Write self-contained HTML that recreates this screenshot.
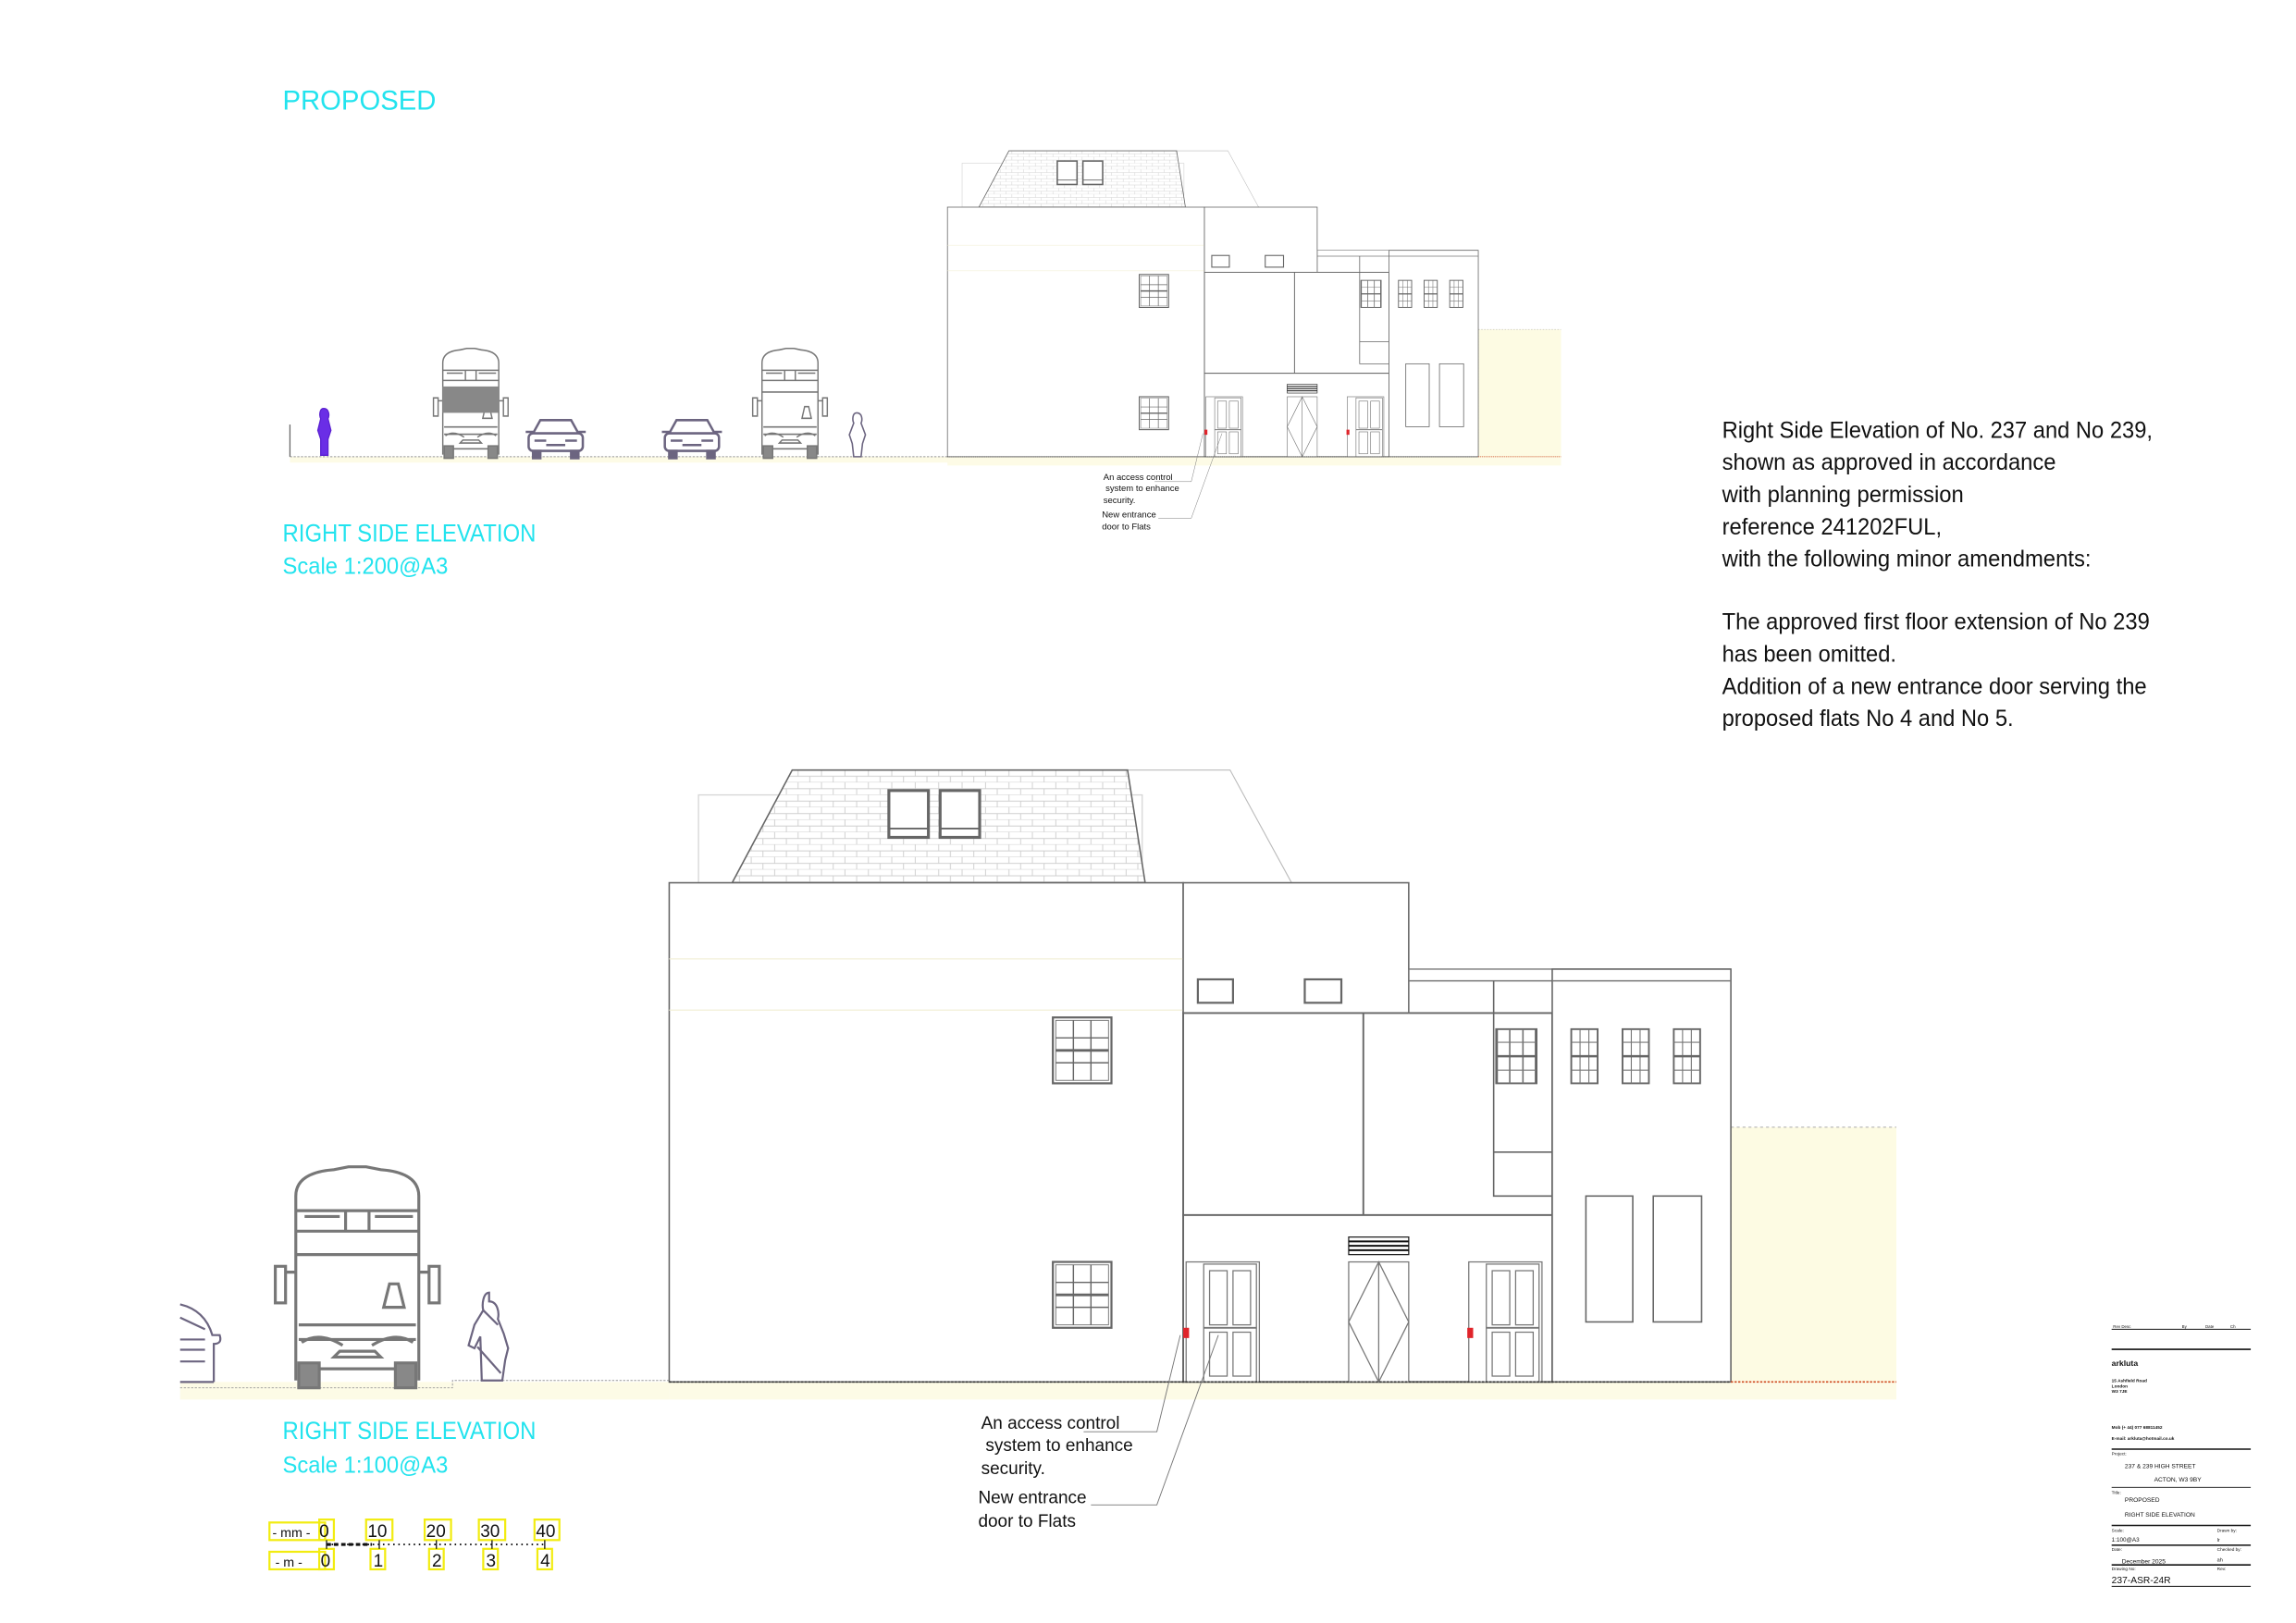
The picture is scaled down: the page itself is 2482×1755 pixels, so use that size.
<!DOCTYPE html>
<html><head><meta charset="utf-8"><style>
html,body{margin:0;padding:0;background:#fff;}
svg{display:block;}
text{font-family:"Liberation Sans",Arial,sans-serif;}
</style></head><body>
<svg width="2482" height="1755" viewBox="0 0 2482 1755" xmlns="http://www.w3.org/2000/svg">
<defs>
<pattern id="brick" width="16" height="8.5" patternUnits="userSpaceOnUse" x="541" y="526">
<rect width="16" height="8.5" fill="#fff"/>
<path d="M0 8.5H16M0 4.25H16M4 0V4.25M12 4.25V8.5" stroke="#cfcfcf" stroke-width="0.6" fill="none"/>
</pattern>
<g id="win6">
<rect x="0" y="0" width="40" height="45" fill="#fff" stroke="#666" stroke-width="1.4"/>
<rect x="2" y="2" width="36" height="41" fill="none" stroke="#777" stroke-width="0.6"/>
<path d="M14 2V43M26 2V43M2 14H38M2 22.5H38M2 31H38" stroke="#666" stroke-width="0.9" fill="none"/>
<path d="M2 22.5H38" stroke="#666" stroke-width="1.8"/>
</g>
<g id="winS">
<rect x="0" y="0" width="18" height="37" fill="#fff" stroke="#666" stroke-width="1.2"/>
<path d="M6 0V37M12 0V37M0 9H18M0 18.5H18M0 28H18" stroke="#777" stroke-width="0.7" fill="none"/>
<path d="M0 18.5H18" stroke="#666" stroke-width="1.6"/>
</g>
<g id="door">
<rect x="0" y="0" width="50" height="82" fill="#fff" stroke="#777" stroke-width="0.8"/>
<rect x="12" y="1.5" width="36" height="80.5" fill="none" stroke="#777" stroke-width="0.8"/>
<rect x="16" y="6" width="12" height="37" fill="none" stroke="#777" stroke-width="0.8"/>
<rect x="32" y="6" width="12" height="37" fill="none" stroke="#777" stroke-width="0.8"/>
<rect x="16" y="48" width="12" height="30" fill="none" stroke="#777" stroke-width="0.8"/>
<rect x="32" y="48" width="12" height="30" fill="none" stroke="#777" stroke-width="0.8"/>
<path d="M12 45H48" stroke="#777" stroke-width="1.2"/>
</g>
<g id="building">
<rect x="457" y="944" width="838" height="12" fill="#fdfbe6"/>
<rect x="1182" y="770" width="113" height="174" fill="#fdfbe3"/>
<path d="M1182 770H1295M1182 770V944" stroke="#aaa" stroke-width="0.6" stroke-dasharray="2 2" fill="none"/>
<rect x="477" y="543" width="303" height="60" fill="none" stroke="#d5d5d5" stroke-width="0.8"/>
<path d="M770 526H840L882 603" stroke="#bbb" stroke-width="0.7" fill="none"/>
<polygon points="500,603 541,526 770,526 782,603" fill="url(#brick)" stroke="#666" stroke-width="1"/>
<rect x="607" y="540" width="27" height="32" fill="#fff" stroke="#666" stroke-width="2"/>
<rect x="642" y="540" width="27" height="32" fill="#fff" stroke="#666" stroke-width="2"/>
<path d="M607 566H634M642 566H669" stroke="#666" stroke-width="1.2"/>
<rect x="457" y="603" width="351" height="341" fill="#fff" stroke="#666" stroke-width="1"/>
<path d="M457 655H808M457 690H808" stroke="#f3f0d8" stroke-width="0.8" fill="none"/>
<rect x="808" y="603" width="154" height="89" fill="#fff" stroke="#666" stroke-width="1"/>
<rect x="808" y="692" width="252" height="138" fill="#fff" stroke="#666" stroke-width="1.2"/>
<g fill="none">
<path d="M931 692V830" stroke="#666" stroke-width="1.2"/>
<path d="M962 662H1182M962 670H1182" stroke="#777" stroke-width="0.9"/>
<path d="M962 662V692" stroke="#777" stroke-width="0.9"/>
<path d="M1020 692V817H1060M1020 787H1060M1020 670V692" stroke="#666" stroke-width="1"/>
</g>
<rect x="808" y="830" width="252" height="114" fill="#fff" stroke="#666" stroke-width="1.2"/>
<rect x="1060" y="662" width="122" height="282" fill="#fff" stroke="#666" stroke-width="1"/>
<path d="M1060 670H1182" stroke="#777" stroke-width="0.9"/>
<rect x="818" y="669" width="24" height="16" fill="#fff" stroke="#666" stroke-width="1.4"/>
<rect x="891" y="669" width="25" height="16" fill="#fff" stroke="#666" stroke-width="1.4"/>
<use href="#win6" x="719" y="695"/>
<use href="#win6" x="719" y="862"/>
<g transform="translate(1022,703) scale(1.5,1)"><use href="#winS"/></g>
<use href="#winS" x="1073" y="703"/>
<use href="#winS" x="1108" y="703"/>
<use href="#winS" x="1143" y="703"/>
<rect x="1083" y="817" width="32" height="86" fill="#fff" stroke="#666" stroke-width="1"/>
<rect x="1129" y="817" width="33" height="86" fill="#fff" stroke="#666" stroke-width="1"/>
<use href="#door" x="810" y="862"/>
<use href="#door" x="1003" y="862"/>
<rect x="921" y="845" width="41" height="12" fill="#fff" stroke="#222" stroke-width="0.8"/>
<path d="M921 848H962M921 851H962M921 854H962" stroke="#111" stroke-width="1.2"/>
<rect x="921" y="862" width="41" height="82" fill="#fff" stroke="#777" stroke-width="0.8"/>
<path d="M941.5 862V944M941.5 862L962 903L941.5 944L921 903Z" stroke="#777" stroke-width="0.8" fill="none"/>
<rect x="808" y="907" width="4" height="7" fill="#e0242a"/>
<rect x="1002" y="907" width="4" height="7" fill="#e0242a"/>
<path d="M457 944H1182" stroke="#333" stroke-width="1" stroke-dasharray="1.5 1"/>
<path d="M1182 944H1295" stroke="#d04a20" stroke-width="1" stroke-dasharray="1.5 1"/>
<path d="M806 912L790 978H740M832 912L790 1028H745" stroke="#777" stroke-width="0.6" fill="none"/>
<g font-size="12" fill="#111">
<text x="670" y="976">An access control</text>
<text x="673" y="991">system to enhance</text>
<text x="670" y="1007">security.</text>
<text x="668" y="1027">New entrance</text>
<text x="668" y="1043">door to Flats</text>
</g>
</g>
<g id="bus" fill="none" stroke="#777" stroke-width="2">
<path d="M14 146V20Q14 4 40 2L50 0H62L72 2Q98 4 98 20V146"/>
<path d="M14 30H98M14 44H98M14 60H98M16 108H96M16 118H96"/>
<path d="M20 34H44M68 34H94M48 30V44M64 30V44"/>
<rect x="0" y="68" width="7" height="25"/><rect x="105" y="68" width="7" height="25"/>
<path d="M7 72H14M98 72H105"/>
<path d="M74 96L78 80H84L88 96Z"/>
<path d="M18 120Q30 112 46 122M66 122Q82 112 94 120"/>
<path d="M40 130H72L68 126H44Z"/>
<rect x="16" y="134" width="14" height="17" fill="#888"/><rect x="82" y="134" width="14" height="17" fill="#888"/>
<path d="M30 138H82"/>
</g>
<g id="car" fill="none" stroke="#6c6580" stroke-width="1.6">
<path d="M5 12L10 3H31L36 12"/>
<rect x="2" y="12" width="37" height="12" rx="3"/>
<path d="M0 11H5M36 11H41M6 17H14M27 17H35M14 20H27"/>
<rect x="5" y="24" width="5" height="5" fill="#6c6580"/><rect x="31" y="24" width="5" height="5" fill="#6c6580"/>
</g>
</defs>

<g transform="scale(1.583)">
<!-- top drawing -->
<text x="193" y="75" font-size="18.5" fill="#22e3ee">PROPOSED</text>
<rect x="198" y="312" width="868" height="4" fill="#fdfbe6"/>
<path d="M198 312H1066" stroke="#999" stroke-width="0.6" stroke-dasharray="1.5 1" fill="none"/>
<path d="M198 290V312" stroke="#666" stroke-width="0.8"/>
<g transform="translate(418.5,-160) scale(0.5)"><use href="#building"/></g>
<g transform="translate(296,238) scale(0.455,0.497)"><use href="#bus"/></g>
<g transform="translate(514,238) scale(0.455,0.497)"><use href="#bus"/></g>
<rect x="302" y="264" width="39" height="18" fill="#888"/>
<use href="#car" x="359" y="284"/>
<use href="#car" x="452" y="284"/>
<path d="M221 279c-3 0-3 5-2 7l-2 8 2 6v11h5v-11l2-6-2-8c1-2 1-7-3-7z" fill="#6a2ee6" stroke="#5a20d0" stroke-width="0.8"/>
<path d="M585 282c-3 0-3 5-2 7l-3 8 2 6 1 9h5l1-9 2-6-3-8c1-2 1-7-3-7z" fill="#fff" stroke="#6c6580" stroke-width="1"/>
<text x="193" y="370" font-size="17" fill="#22e3ee" textLength="173" lengthAdjust="spacingAndGlyphs">RIGHT SIDE ELEVATION</text>
<text x="193" y="392" font-size="16" fill="#22e3ee" textLength="113" lengthAdjust="spacingAndGlyphs">Scale 1:200@A3</text>

<!-- right text -->
<g font-size="16" fill="#111">
<text x="1176" y="299" textLength="294" lengthAdjust="spacingAndGlyphs">Right Side Elevation of No. 237 and No 239,</text>
<text x="1176" y="321" textLength="228" lengthAdjust="spacingAndGlyphs">shown as approved in accordance</text>
<text x="1176" y="343" textLength="165" lengthAdjust="spacingAndGlyphs">with planning permission</text>
<text x="1176" y="365" textLength="150" lengthAdjust="spacingAndGlyphs">reference 241202FUL,</text>
<text x="1176" y="387" textLength="252" lengthAdjust="spacingAndGlyphs">with the following minor amendments:</text>
<text x="1176" y="430" textLength="292" lengthAdjust="spacingAndGlyphs">The approved first floor extension of No 239</text>
<text x="1176" y="452" textLength="119" lengthAdjust="spacingAndGlyphs">has been omitted.</text>
<text x="1176" y="474" textLength="290" lengthAdjust="spacingAndGlyphs">Addition of a new entrance door serving the</text>
<text x="1176" y="496" textLength="199" lengthAdjust="spacingAndGlyphs">proposed flats No 4 and No 5.</text>
</g>

<!-- bottom drawing -->
<rect x="123" y="944" width="334" height="12" fill="#fdfbe6"/>
<path d="M123 948H309V943H457" stroke="#999" stroke-width="0.6" stroke-dasharray="1.5 1" fill="none"/>
<use href="#building"/>
<use href="#bus" x="188" y="797"/>
<g fill="none" stroke="#6c6580" stroke-width="1.4">
<path d="M123 891Q140 895 145 912H150Q152 918 146 918V944M123 944H146M123 900L140 908M123 915H140M123 922H140M123 930H140"/>
<path d="M334 883c-4 0-5 8-4 12l-6 10-4 14 4 2 4-8 1 30h14l2-14 2-8-3-10-4-10c1-4 0-12-6-12z"/>
<path d="M330 895l10 10M326 920l16 18"/>
</g>
<text x="193" y="983" font-size="17" fill="#22e3ee" textLength="173" lengthAdjust="spacingAndGlyphs">RIGHT SIDE ELEVATION</text>
<text x="193" y="1006" font-size="16" fill="#22e3ee" textLength="113" lengthAdjust="spacingAndGlyphs">Scale 1:100@A3</text>

<!-- scale bar -->
<g fill="none" stroke="#f2ec10" stroke-width="1.4">
<rect x="184" y="1040" width="38" height="12"/><rect x="218" y="1038" width="10" height="14"/>
<rect x="250" y="1038" width="18" height="14"/><rect x="290" y="1038" width="18" height="14"/>
<rect x="327" y="1038" width="18" height="14"/><rect x="365" y="1038" width="17" height="14"/>
<rect x="184" y="1060" width="38" height="12"/><rect x="218" y="1058" width="10" height="14"/>
<rect x="253" y="1058" width="10" height="14"/><rect x="293" y="1058" width="10" height="14"/>
<rect x="330" y="1058" width="10" height="14"/><rect x="367" y="1058" width="10" height="14"/>
</g>
<path d="M223 1055H373" stroke="#111" stroke-width="1.2" stroke-dasharray="1 2.5"/>
<path d="M223 1055H254" stroke="#111" stroke-width="2" stroke-dasharray="3 2"/>
<path d="M223 1052V1058M259 1052V1058M298 1052V1058M336 1052V1058M372 1052V1058" stroke="#111" stroke-width="0.8"/>
<g font-family="Liberation Mono,monospace" font-size="12" fill="#111">
<text x="186" y="1050" font-size="9">- mm -</text><text x="218" y="1050">0</text>
<text x="251" y="1050">10</text><text x="291" y="1050">20</text><text x="328" y="1050">30</text><text x="366" y="1050">40</text>
<text x="188" y="1070" font-size="9">- m -</text><text x="219" y="1070">0</text>
<text x="255" y="1070">1</text><text x="295" y="1070">2</text><text x="332" y="1070">3</text><text x="369" y="1070">4</text>
</g>

<!-- title block -->
<g stroke="#111" fill="none">
<path d="M1442 908H1537" stroke-width="0.6"/>
<path d="M1442 921.7H1537" stroke-width="1"/>
<path d="M1442 989.9H1537" stroke-width="1"/>
<path d="M1442 1016H1537" stroke-width="0.6"/>
<path d="M1442 1042H1537" stroke-width="1"/>
<path d="M1442 1055.5H1537" stroke-width="1"/>
<path d="M1442 1069H1537" stroke-width="1"/>
<path d="M1442 1083.6H1537" stroke-width="0.6"/>
</g>
<g fill="#111">
<text x="1443" y="907" font-size="2.8">Rev   Desc</text><text x="1490" y="907" font-size="2.8">By</text><text x="1506" y="907" font-size="2.8">Date</text><text x="1523" y="907" font-size="2.8">Ch</text>
<text x="1442" y="933" font-size="5.5" font-weight="bold">arkluta</text>
<text x="1442" y="944" font-size="3" font-weight="bold">15 Ashfield Road</text>
<text x="1442" y="948" font-size="3" font-weight="bold">London</text>
<text x="1442" y="951.5" font-size="3" font-weight="bold">W3  7JE</text>
<text x="1442" y="976" font-size="3" font-weight="bold">Mob (+ 44) 077 68811452</text>
<text x="1442" y="983.5" font-size="3" font-weight="bold">E-mail: arkluta@hotmail.co.uk</text>
<text x="1442" y="994" font-size="3">Project:</text>
<text x="1451" y="1003" font-size="4.2">237 &amp; 239 HIGH STREET</text>
<text x="1471" y="1012" font-size="4.2">ACTON, W3 9BY</text>
<text x="1442" y="1020.5" font-size="3">Title:</text>
<text x="1451" y="1026" font-size="4.2">PROPOSED</text>
<text x="1451" y="1036" font-size="4.2">RIGHT SIDE ELEVATION</text>
<text x="1442" y="1046.5" font-size="3">Scale:</text>
<text x="1442" y="1053" font-size="4">1:100@A3</text>
<text x="1514" y="1046.5" font-size="3">Drawn by:</text>
<text x="1514" y="1053" font-size="3.5">lr</text>
<text x="1442" y="1059.5" font-size="3">Date:</text>
<text x="1449" y="1068" font-size="4.2">December 2025</text>
<text x="1514" y="1059.5" font-size="3">Checked by:</text>
<text x="1514" y="1066.5" font-size="3.5">ah</text>
<text x="1442" y="1072.5" font-size="3">Drawing No:</text>
<text x="1442" y="1081.5" font-size="6.5">237-ASR-24R</text>
<text x="1514" y="1072.5" font-size="3">Rev:</text>
</g>
</g>
</svg>
</body></html>
